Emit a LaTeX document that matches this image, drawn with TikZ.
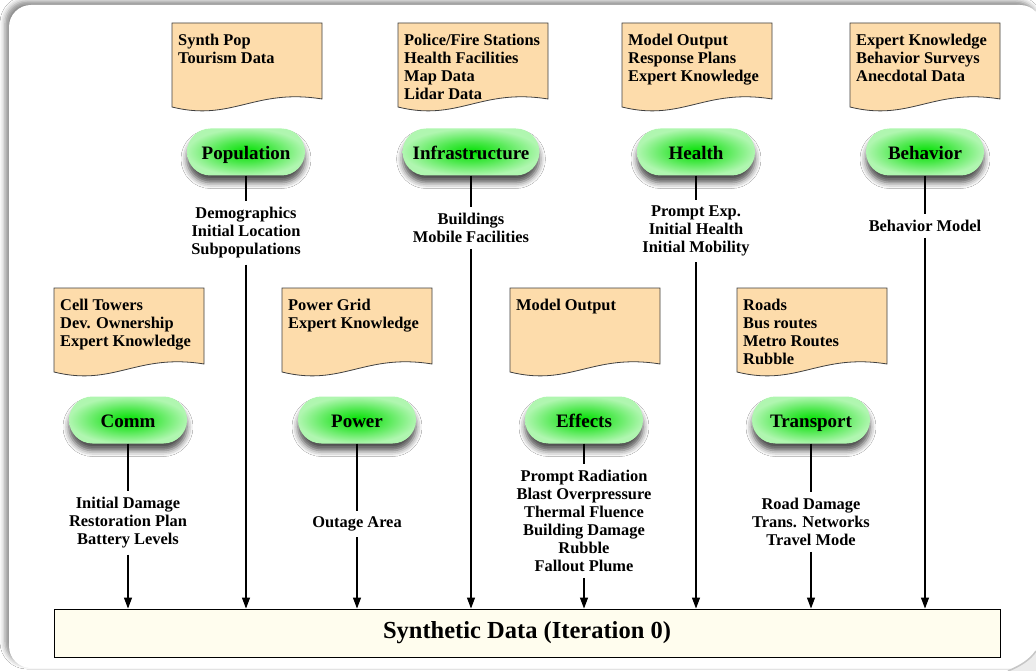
\documentclass[tikz,border=0pt]{standalone}
\usepackage{fontspec}
\setmainfont{Liberation Serif}
\usetikzlibrary{arrows.meta,shadows.blur}

\definecolor{docfill}{HTML}{FDDCAB}
\definecolor{docedge}{HTML}{404040}
\definecolor{glowcore}{HTML}{00E000}
\definecolor{glowmid}{HTML}{48E848}
\definecolor{glowrim}{HTML}{B0F6B0}
\definecolor{synthfill}{HTML}{FFFDEE}
\pgfdeclareradialshading{pillglow}{\pgfpoint{0bp}{0bp}}{color(0bp)=(glowcore); color(11bp)=(glowmid); color(25bp)=(glowrim); color(50bp)=(glowrim)}

\tikzset{
  pill/.style={rounded corners=23.5pt, minimum width=118pt, minimum height=47pt,
    inner xsep=10pt, shading=pillglow, text height=16pt, text depth=1pt,
    font=\fontsize{19}{22}\selectfont\bfseries,
    blur shadow={shadow xshift=0pt, shadow yshift=-7pt, shadow blur radius=6pt, shadow opacity=70}},
  docpage/.style={draw=docedge, fill=docfill, line width=0.8pt},
  doctext/.style={anchor=north west, align=left, inner sep=0pt,
    font=\fontsize{16.4}{18}\selectfont\bfseries},
  flowlabel/.style={align=center, inner xsep=2pt, inner ysep=6pt,
    font=\fontsize{16.4}{18}\selectfont\bfseries},
  feed/.style={line width=1.2pt, black},
  arrowfeed/.style={feed, -{Triangle[length=11pt,width=8pt]}},
  synthbox/.style={draw=black, line width=0.9pt, fill=synthfill,
    minimum width=946pt, minimum height=48pt,
    font=\fontsize{24.5}{28}\selectfont\bfseries}
}

% a data source drawn as a page with a wavy lower edge
\newcommand\sourcedoc[4]{%
  \begin{scope}[shift={(#1,#2)}]
    \draw[docpage] (0,0) -- (150,0) -- (150,76)
      .. controls (82.5,65) and (60,99) .. (0,84) -- cycle;
    \node[doctext] (#3) at (6,10.5) {#4};
  \end{scope}}

\begin{document}
\begin{tikzpicture}[x=1pt, y=-1pt]
  \useasboundingbox (0,0) rectangle (1036,671);
  \clip (0,0) rectangle (1036,671);

  % backdrop panel
  \fill[white] (0,0) rectangle (1036,671);
  \path[fill=white, rounded corners=22pt,
    blur shadow={shadow xshift=-4pt, shadow yshift=4pt, shadow blur radius=5pt, shadow opacity=45}]
    (9,5) rectangle (1042,668);
  \fill[gray!15] (1008,671) .. controls (1020,666) and (1030,660) .. (1036,651) -- (1036,671) -- cycle;
  \draw[gray!45, line width=1.5pt] (1008,671) .. controls (1020,666) and (1030,660) .. (1036,651);

  % data sources
  \sourcedoc{172}{23}{popsrc}{Synth Pop\\Tourism Data}
  \sourcedoc{398}{23}{infrasrc}{Police/Fire Stations\\Health Facilities\\Map Data\\Lidar Data}
  \sourcedoc{622}{23}{healthsrc}{Model Output\\Response Plans\\Expert Knowledge}
  \sourcedoc{850}{23}{behavsrc}{Expert Knowledge\\Behavior Surveys\\Anecdotal Data}
  \sourcedoc{54}{288}{commsrc}{Cell Towers\\Dev. Ownership\\Expert Knowledge}
  \sourcedoc{282}{288}{powersrc}{Power Grid\\Expert Knowledge}
  \sourcedoc{510}{288}{effectssrc}{Model Output}
  \sourcedoc{737}{288}{transportsrc}{Roads\\Bus routes\\Metro Routes\\Rubble}

  % modules
  \node[pill] (pop) at (246,152) {Population};
  \node[pill] (infra) at (471,152) {Infrastructure};
  \node[pill] (health) at (696,152) {Health};
  \node[pill] (behav) at (925,152) {Behavior};
  \node[pill] (comm) at (128,420) {Comm};
  \node[pill] (power) at (357,420) {Power};
  \node[pill] (effects) at (584,420) {Effects};
  \node[pill] (transport) at (811,420) {Transport};

  % products of each module
  \node[flowlabel] (pop-lab) at (246,233) {Demographics\\Initial Location\\Subpopulations};
  \node[flowlabel] (infra-lab) at (471,228) {Buildings\\Mobile Facilities};
  \node[flowlabel] (health-lab) at (696,231) {Prompt Exp.\\Initial Health\\Initial Mobility};
  \node[flowlabel] (behav-lab) at (925,226) {Behavior Model};
  \node[flowlabel] (comm-lab) at (128,523) {Initial Damage\\Restoration Plan\\Battery Levels};
  \node[flowlabel] (power-lab) at (357,524) {Outage Area};
  \node[flowlabel] (effects-lab) at (584,521) {Prompt Radiation\\Blast Overpressure\\Thermal Fluence\\Building Damage\\Rubble\\Fallout Plume};
  \node[flowlabel] (transport-lab) at (811,522) {Road Damage\\Trans. Networks\\Travel Mode};

  % combined output
  \node[synthbox] (synth) at (527,633) {Synthetic Data (Iteration 0)};

  \foreach \m in {pop,infra,health,behav,comm,power,effects,transport} {
    \draw[feed] (\m) -- (\m-lab);
    \draw[arrowfeed] (\m-lab) -- (\m-lab |- synth.north);
  }
\end{tikzpicture}
\end{document}
